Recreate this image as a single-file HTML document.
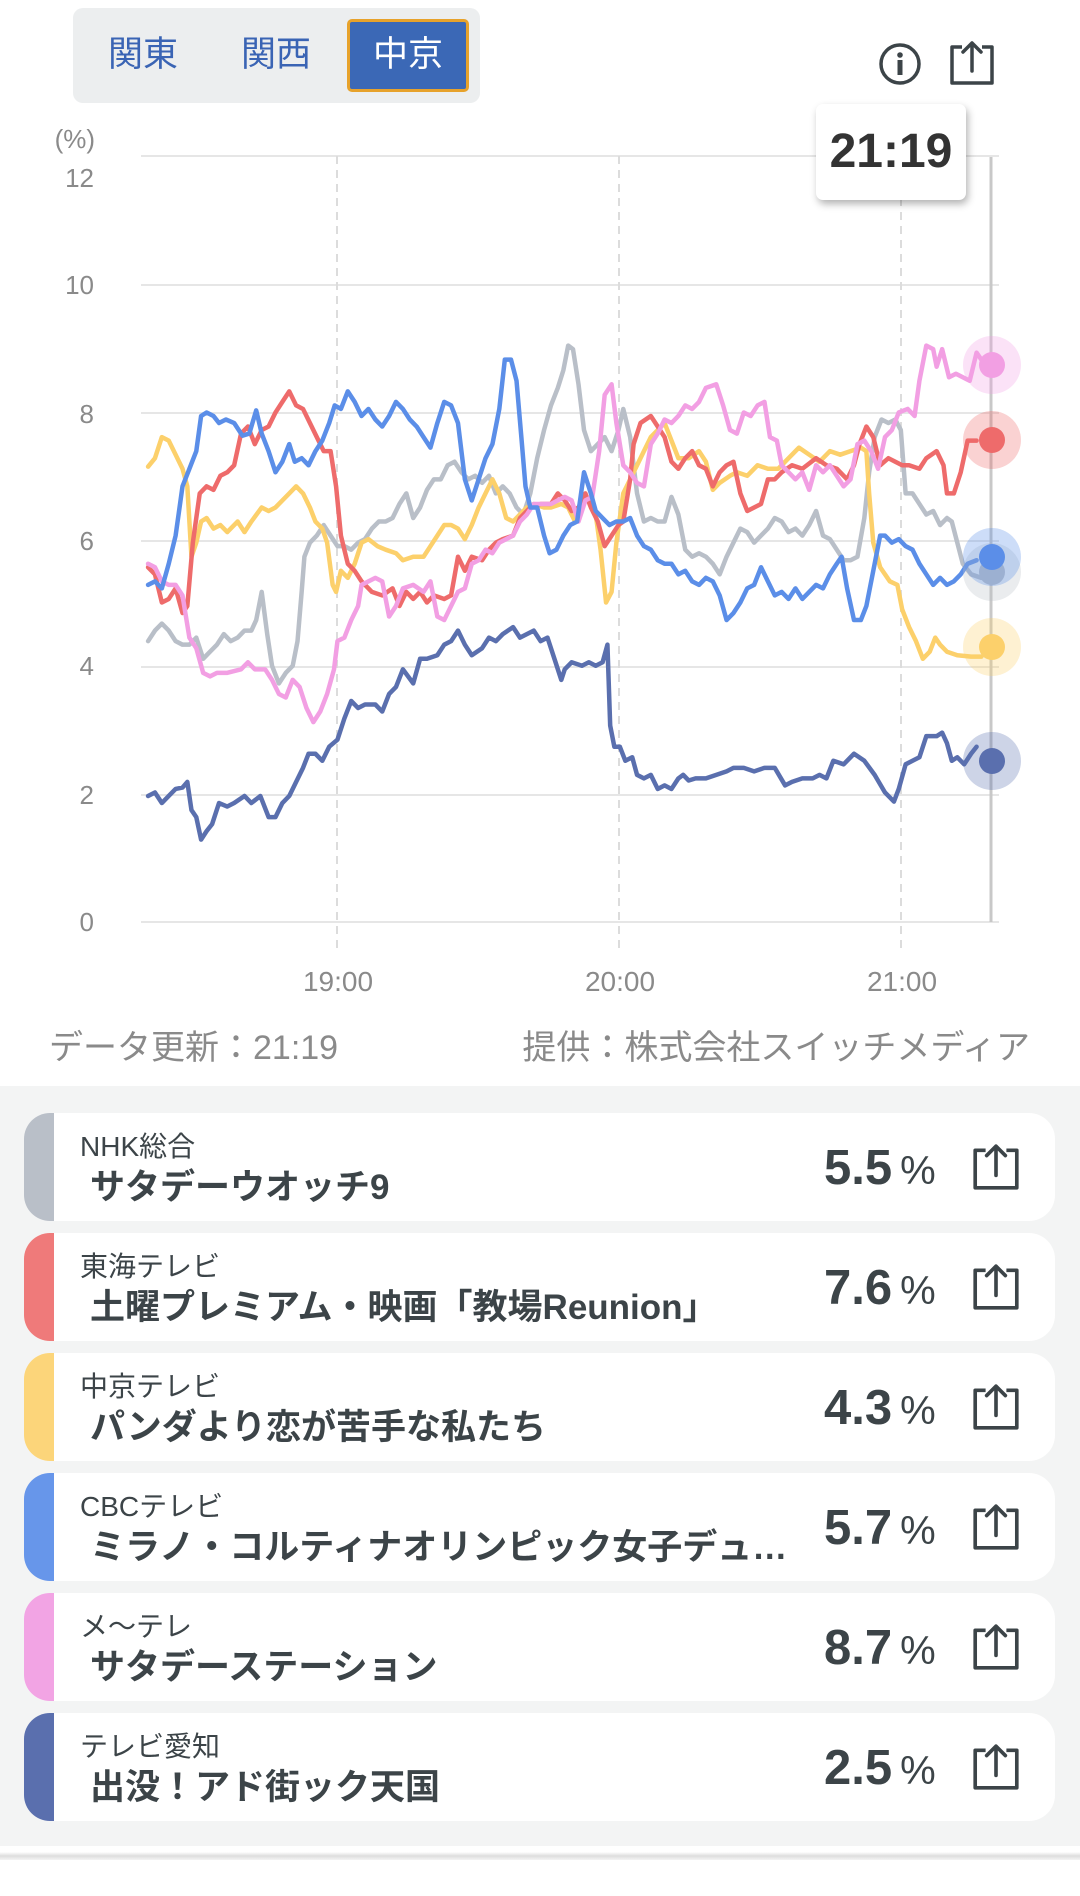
<!DOCTYPE html>
<html><head><meta charset="utf-8"><style>
*{margin:0;padding:0;box-sizing:border-box}
body{width:1080px;height:1896px;background:#fff;font-family:"Liberation Sans","Noto Sans CJK JP",sans-serif;position:relative;overflow:hidden}
.abs{position:absolute}
.tabs{left:73px;top:8px;width:407px;height:95px;background:#eceeef;border-radius:10px}
.tab{position:absolute;top:11px;height:73px;line-height:71px;font-size:35px;color:#3a64b4;text-align:center}
.on{left:274px;width:122px;background:#3b68b6;color:#fff;border:3px solid #e7a22b;border-radius:5px;line-height:66px}
.ylab{right:986px;font-size:26px;color:#8a8a8a;text-align:right}
.xlab{font-size:28px;color:#8a8a8a;width:120px;text-align:center;top:966px}
.foot{top:1020px;font-size:34px;color:#8a8a8a}
.list{left:0;top:1086px;width:1080px;height:760px;background:#f3f4f4}
.card{position:absolute;left:24px;width:1031px;height:108px;background:#fff;border-radius:26px;overflow:hidden}
.bar{position:absolute;left:0;top:0;width:30px;height:100%}
.ch{position:absolute;left:56px;top:12px;font-size:28px;color:#3c4448}
.ti{position:absolute;left:66px;top:46px;font-size:35px;font-weight:bold;color:#3c4448;white-space:nowrap}
.val{position:absolute;left:800px;top:27px;font-size:49px;font-weight:bold;color:#3c4448}
.val span{font-size:40px;font-weight:normal;margin-left:8px}
.sh{position:absolute;left:946px;top:28px}
</style></head><body>
<div class="abs tabs">
<div class="tab" style="left:30px;width:80px">関東</div>
<div class="tab" style="left:163px;width:80px">関西</div>
<div class="tab on">中京</div>
</div>
<svg class="abs" style="left:876px;top:40px" width="48" height="48" viewBox="0 0 48 48"><circle cx="24" cy="24" r="19" fill="none" stroke="#3c4448" stroke-width="3.5"/><circle cx="24" cy="15" r="2.8" fill="#3c4448"/><rect x="21.5" y="20" width="5" height="15" fill="#3c4448"/></svg>
<svg class="abs" style="left:947px;top:38px" width="50" height="50" viewBox="0 0 50 50"><path d="M15 9H5V45H45V9H35" fill="none" stroke="#3c4448" stroke-width="3.5" stroke-linejoin="round"/><path d="M25 33V5M16 14L25 5L34 14" fill="none" stroke="#3c4448" stroke-width="3.5" stroke-linecap="round" stroke-linejoin="round"/></svg>

<div class="abs ylab" style="top:124px;right:985px">(%)</div>
<div class="abs ylab" style="top:163px">12</div>
<div class="abs ylab" style="top:270px">10</div>
<div class="abs ylab" style="top:399px">8</div>
<div class="abs ylab" style="top:526px">6</div>
<div class="abs ylab" style="top:651px">4</div>
<div class="abs ylab" style="top:780px">2</div>
<div class="abs ylab" style="top:907px">0</div>

<svg class="abs" style="left:0;top:0" width="1080" height="1060">
<g stroke="#e6e6e6" stroke-width="2">
<line x1="141" x2="999" y1="156" y2="156"/><line x1="141" x2="999" y1="285" y2="285"/><line x1="141" x2="999" y1="413" y2="413"/><line x1="141" x2="999" y1="541" y2="541"/><line x1="141" x2="999" y1="667" y2="667"/><line x1="141" x2="999" y1="795" y2="795"/><line x1="141" x2="999" y1="922" y2="922"/>
</g>
<g stroke="#dcdcdc" stroke-width="2" stroke-dasharray="8,6">
<line x1="337" x2="337" y1="156" y2="952"/><line x1="619" x2="619" y1="156" y2="952"/><line x1="901" x2="901" y1="156" y2="952"/>
</g>
<line x1="991" x2="991" y1="157" y2="922" stroke="#c8c8c8" stroke-width="3"/>
<g transform="matrix(0.6887,0,0,0.7037,0,0.8)" fill="none" stroke-width="4.5" stroke-linejoin="round" stroke-linecap="round">
<polyline vector-effect="non-scaling-stroke" stroke="#b9bfc8" points="215,910 225,895 235,885 245,895 255,910 265,915 275,915 285,905 295,935 305,925 315,915 325,900 335,910 345,905 355,895 365,895 372,880 380,840 388,900 395,945 405,970 415,955 425,945 432,910 438,840 442,790 450,770 460,760 470,745 480,760 490,775 500,775 510,780 520,770 530,765 540,750 550,740 560,740 570,735 580,715 590,700 600,735 610,720 620,695 630,680 640,680 650,660 660,655 670,670 680,680 690,675 700,685 710,675 720,700 730,690 740,700 750,720 760,730 770,700 780,650 790,610 800,575 810,550 818,525 825,490 832,495 840,545 848,610 858,640 868,630 878,620 888,640 898,610 905,580 915,620 925,700 935,740 945,735 955,740 965,740 975,705 985,730 995,780 1005,790 1015,785 1025,790 1035,800 1045,815 1055,790 1065,770 1075,750 1085,755 1095,770 1105,760 1115,750 1125,735 1135,740 1145,755 1155,750 1165,760 1175,745 1185,725 1195,760 1205,765 1215,780 1225,795 1235,795 1245,790 1255,735 1262,670 1270,620 1280,595 1290,600 1300,595 1308,610 1315,700 1325,700 1335,715 1345,730 1355,725 1365,745 1375,735 1382,740 1390,770 1398,800 1410,815 1425,820"/>
<polyline vector-effect="non-scaling-stroke" stroke="#fcd06b" points="215,662 225,650 235,620 245,625 255,645 265,665 272,690 278,790 285,770 292,740 300,735 310,750 320,745 330,755 345,740 355,755 365,740 380,720 390,725 400,720 410,710 420,700 430,690 440,700 450,720 458,740 468,750 475,770 483,830 488,840 495,810 505,820 515,800 525,770 535,765 548,775 560,780 575,785 585,795 600,790 615,790 625,775 635,760 645,745 655,745 665,750 675,765 685,745 695,720 705,700 715,680 725,700 735,735 745,740 755,730 765,720 775,715 790,720 800,720 815,715 825,720 835,740 845,705 855,710 865,730 872,780 880,855 888,840 895,770 905,700 915,680 925,660 935,640 945,620 955,610 965,600 975,625 985,650 1000,650 1015,640 1025,655 1035,695 1045,685 1060,675 1070,670 1085,675 1100,660 1115,665 1130,665 1145,650 1160,635 1175,645 1190,655 1205,640 1220,645 1235,640 1250,635 1258,640 1262,700 1268,770 1278,805 1292,825 1303,830 1310,865 1320,890 1330,910 1340,935 1350,925 1358,905 1365,915 1375,925 1390,930 1410,932 1425,932"/>
<polyline vector-effect="non-scaling-stroke" stroke="#ee6b6b" points="215,805 225,815 235,855 245,850 255,835 265,870 272,860 280,770 290,700 300,690 310,695 320,675 330,670 340,660 350,615 360,605 370,630 380,610 390,605 400,585 410,570 420,555 430,575 440,580 450,600 460,620 470,640 480,640 488,690 495,760 505,800 515,810 525,825 540,840 555,845 570,835 580,860 590,840 600,850 610,840 620,855 630,845 645,850 655,845 665,790 675,810 685,790 700,795 710,780 720,770 730,765 745,760 755,735 770,720 785,715 800,715 810,700 820,710 830,725 840,720 850,700 858,720 868,740 878,775 888,760 898,745 905,740 915,680 920,630 930,600 945,590 955,605 965,620 975,655 985,665 995,650 1005,640 1015,660 1025,665 1035,690 1045,670 1055,660 1065,655 1075,700 1085,725 1095,720 1105,715 1115,680 1125,680 1135,670 1150,660 1165,665 1185,650 1200,660 1215,665 1230,680 1240,660 1248,630 1258,605 1268,620 1278,660 1290,650 1300,655 1310,660 1320,660 1335,665 1345,650 1360,640 1370,660 1375,700 1385,700 1395,670 1405,625 1418,625"/>
<polyline vector-effect="non-scaling-stroke" stroke="#f29fe3" points="215,800 225,805 235,825 245,830 255,830 265,845 275,905 285,920 295,955 305,960 315,955 330,955 350,950 360,940 370,950 385,950 395,965 405,985 415,990 425,965 435,975 445,1005 455,1025 465,1010 475,985 485,950 490,910 500,905 510,880 520,860 525,830 535,825 545,820 555,825 565,875 575,860 585,835 600,830 615,840 625,825 635,875 645,880 655,860 665,840 675,835 685,800 695,795 705,780 715,785 725,770 735,765 745,760 755,740 765,730 775,715 790,715 800,715 810,710 820,705 830,710 840,740 850,710 860,705 870,640 878,560 888,545 895,600 905,660 915,670 925,685 935,690 945,630 955,615 965,595 975,600 985,590 995,575 1005,580 1015,570 1025,550 1040,545 1050,575 1060,610 1070,615 1080,585 1090,590 1100,575 1110,570 1118,620 1128,625 1135,660 1145,670 1155,680 1165,670 1175,695 1185,660 1195,670 1205,660 1215,675 1225,690 1235,680 1245,630 1255,625 1265,640 1275,665 1285,620 1295,610 1305,585 1318,580 1328,590 1335,540 1345,490 1355,495 1360,520 1368,495 1378,535 1388,530 1398,535 1408,540 1418,500 1425,510"/>
<polyline vector-effect="non-scaling-stroke" stroke="#5b8ee8" points="215,830 225,825 235,835 245,800 255,760 265,690 275,665 285,640 292,590 300,585 310,590 318,600 328,595 340,600 352,618 362,615 372,582 380,615 390,640 400,670 410,655 420,630 428,655 438,650 448,660 458,640 468,625 478,600 486,575 495,580 505,555 515,570 525,590 535,580 545,595 555,605 565,590 575,570 585,580 595,595 605,605 615,620 625,635 635,600 645,570 655,575 665,600 675,680 685,710 695,680 705,650 715,630 725,580 733,510 742,510 750,540 757,620 763,690 770,720 780,720 790,760 798,785 808,780 818,760 828,745 838,740 848,670 858,700 865,725 875,735 885,745 895,740 905,740 915,735 925,760 935,775 945,780 955,795 965,800 975,800 985,815 995,810 1005,825 1015,830 1025,820 1035,825 1045,845 1055,880 1065,870 1075,855 1085,835 1095,830 1105,805 1115,825 1125,845 1135,840 1145,850 1155,835 1165,850 1175,840 1185,830 1195,835 1205,815 1215,800 1222,790 1230,835 1240,880 1250,880 1258,860 1268,810 1278,760 1285,760 1295,770 1305,765 1315,775 1325,780 1335,800 1345,815 1355,830 1365,820 1375,830 1385,825 1395,815 1405,800 1418,795"/>
<polyline vector-effect="non-scaling-stroke" stroke="#5a6fae" points="215,1130 225,1125 235,1140 245,1130 255,1120 265,1118 272,1110 278,1150 285,1160 292,1192 300,1180 308,1170 318,1140 330,1145 340,1140 355,1130 365,1140 378,1130 390,1160 400,1160 410,1140 420,1130 430,1110 440,1090 448,1070 458,1070 468,1080 478,1060 490,1050 500,1020 510,995 520,1005 530,1000 545,1000 555,1010 565,985 575,975 585,950 600,970 610,935 620,935 635,930 645,915 655,910 665,895 675,915 685,930 700,920 710,905 720,910 730,900 745,890 755,905 765,900 775,895 785,910 795,905 805,935 815,965 820,950 830,940 845,945 855,940 865,945 875,940 882,915 886,1030 892,1060 900,1060 908,1080 918,1075 925,1100 935,1105 945,1100 955,1120 965,1115 975,1120 985,1105 992,1100 1000,1108 1010,1105 1025,1105 1040,1100 1055,1095 1065,1090 1080,1090 1095,1095 1110,1090 1125,1090 1140,1115 1150,1110 1165,1105 1180,1105 1190,1100 1200,1105 1210,1080 1225,1085 1240,1070 1255,1080 1270,1100 1285,1125 1298,1138 1305,1120 1315,1085 1325,1080 1335,1075 1345,1045 1360,1045 1368,1040 1375,1055 1382,1080 1390,1075 1400,1085 1410,1070 1418,1060"/>
</g>
<g>
<circle cx="992" cy="572" r="29" fill="#b9bfc8" opacity="0.3"/><circle cx="992" cy="572" r="13" fill="#b9bfc8"/>
<circle cx="992" cy="647" r="29" fill="#fcd06b" opacity="0.3"/><circle cx="992" cy="647" r="13" fill="#fcd06b"/>
<circle cx="992" cy="761" r="29" fill="#5a6fae" opacity="0.3"/><circle cx="992" cy="761" r="13" fill="#5a6fae"/>
<circle cx="992" cy="557" r="29" fill="#5b8ee8" opacity="0.3"/><circle cx="992" cy="557" r="13" fill="#5b8ee8"/>
<circle cx="992" cy="440" r="29" fill="#ee6b6b" opacity="0.3"/><circle cx="992" cy="440" r="13" fill="#ee6b6b"/>
<circle cx="992" cy="365" r="29" fill="#f29fe3" opacity="0.3"/><circle cx="992" cy="365" r="13" fill="#f29fe3"/>
</g>
</svg>
<div class="abs" style="left:816px;top:104px;width:150px;height:96px;background:#fff;border-radius:7px;box-shadow:2px 4px 8px rgba(0,0,0,0.3);font-size:48px;font-weight:bold;color:#333;text-align:center;line-height:96px">21:19</div>

<div class="abs xlab" style="left:278px">19:00</div>
<div class="abs xlab" style="left:560px">20:00</div>
<div class="abs xlab" style="left:842px">21:00</div>
<div class="abs foot" style="left:49px">データ更新：21:19</div>
<div class="abs foot" style="right:50px">提供：株式会社スイッチメディア</div>

<div class="abs list">
<div class="card" style="top:27px"><div class="bar" style="background:#b9bfc8"></div><div class="ch">NHK総合</div><div class="ti">サタデーウオッチ9</div><div class="val">5.5<span>%</span></div><svg class="sh" width="52" height="52" viewBox="0 0 50 50"><path d="M15 9H5V45H45V9H35" fill="none" stroke="#3c4448" stroke-width="3.5" stroke-linejoin="round"/><path d="M25 33V5M16 14L25 5L34 14" fill="none" stroke="#3c4448" stroke-width="3.5" stroke-linecap="round" stroke-linejoin="round"/></svg></div>
<div class="card" style="top:147px"><div class="bar" style="background:#ef7a7a"></div><div class="ch">東海テレビ</div><div class="ti">土曜プレミアム・映画「教場Reunion」</div><div class="val">7.6<span>%</span></div><svg class="sh" width="52" height="52" viewBox="0 0 50 50"><path d="M15 9H5V45H45V9H35" fill="none" stroke="#3c4448" stroke-width="3.5" stroke-linejoin="round"/><path d="M25 33V5M16 14L25 5L34 14" fill="none" stroke="#3c4448" stroke-width="3.5" stroke-linecap="round" stroke-linejoin="round"/></svg></div>
<div class="card" style="top:267px"><div class="bar" style="background:#fcd57a"></div><div class="ch">中京テレビ</div><div class="ti">パンダより恋が苦手な私たち</div><div class="val">4.3<span>%</span></div><svg class="sh" width="52" height="52" viewBox="0 0 50 50"><path d="M15 9H5V45H45V9H35" fill="none" stroke="#3c4448" stroke-width="3.5" stroke-linejoin="round"/><path d="M25 33V5M16 14L25 5L34 14" fill="none" stroke="#3c4448" stroke-width="3.5" stroke-linecap="round" stroke-linejoin="round"/></svg></div>
<div class="card" style="top:387px"><div class="bar" style="background:#6796ea"></div><div class="ch">CBCテレビ</div><div class="ti">ミラノ・コルティナオリンピック女子デュ…</div><div class="val">5.7<span>%</span></div><svg class="sh" width="52" height="52" viewBox="0 0 50 50"><path d="M15 9H5V45H45V9H35" fill="none" stroke="#3c4448" stroke-width="3.5" stroke-linejoin="round"/><path d="M25 33V5M16 14L25 5L34 14" fill="none" stroke="#3c4448" stroke-width="3.5" stroke-linecap="round" stroke-linejoin="round"/></svg></div>
<div class="card" style="top:507px"><div class="bar" style="background:#f2a4e4"></div><div class="ch">メ～テレ</div><div class="ti">サタデーステーション</div><div class="val">8.7<span>%</span></div><svg class="sh" width="52" height="52" viewBox="0 0 50 50"><path d="M15 9H5V45H45V9H35" fill="none" stroke="#3c4448" stroke-width="3.5" stroke-linejoin="round"/><path d="M25 33V5M16 14L25 5L34 14" fill="none" stroke="#3c4448" stroke-width="3.5" stroke-linecap="round" stroke-linejoin="round"/></svg></div>
<div class="card" style="top:627px"><div class="bar" style="background:#5a6fae"></div><div class="ch">テレビ愛知</div><div class="ti">出没！アド街ック天国</div><div class="val">2.5<span>%</span></div><svg class="sh" width="52" height="52" viewBox="0 0 50 50"><path d="M15 9H5V45H45V9H35" fill="none" stroke="#3c4448" stroke-width="3.5" stroke-linejoin="round"/><path d="M25 33V5M16 14L25 5L34 14" fill="none" stroke="#3c4448" stroke-width="3.5" stroke-linecap="round" stroke-linejoin="round"/></svg></div>
</div>
<div class="abs" style="left:0;top:1852px;width:1080px;height:8px;background:linear-gradient(#fff,#ddd,#f4f4f4)"></div>
</body></html>
